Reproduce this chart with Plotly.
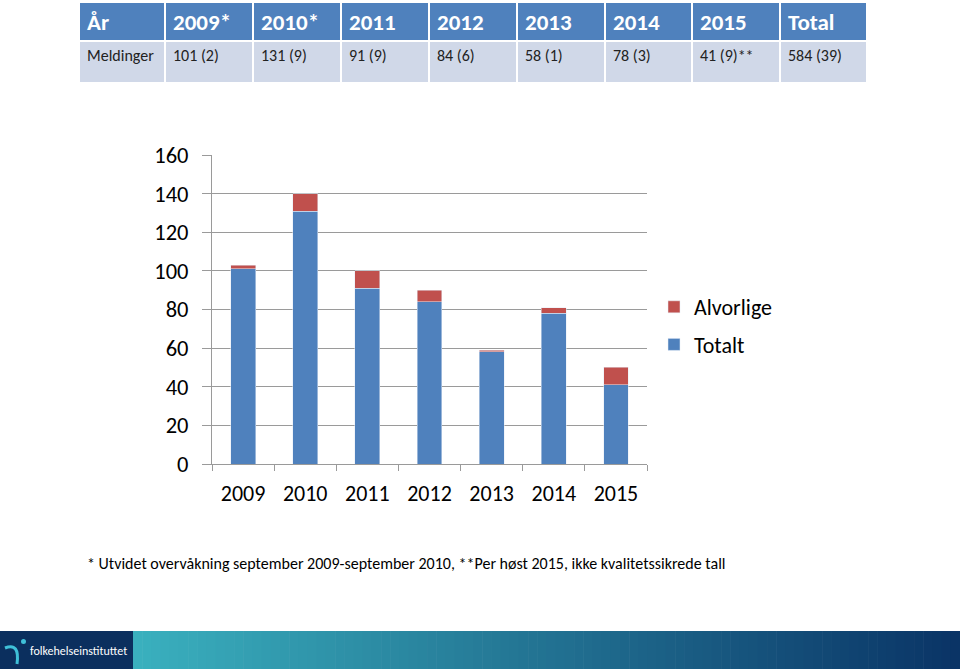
import plotly.graph_objects as go

# ---- data ----
years = ["2009", "2010", "2011", "2012", "2013", "2014", "2015"]
totalt = [101, 131, 91, 84, 58, 78, 41]
alvorlige = [2, 9, 9, 6, 1, 3, 9]

table_header = ["År", "2009*", "2010*", "2011", "2012", "2013", "2014", "2015", "Total"]
table_row = ["Meldinger", "101 (2)", "131 (9)", "91 (9)", "84 (6)", "58 (1)", "78 (3)", "41 (9)**", "584 (39)"]
footnote = "* Utvidet overvåkning september 2009-september 2010, **Per høst 2015, ikke kvalitetssikrede tall"

W, H = 960, 669
FONT = "Carlito, Lato, 'Liberation Sans', sans-serif"
BLUE = "#4F81BD"
RED = "#C0504D"
GRID = "#9A9A9A"


def px(x):
    return x / W


def py(y):
    return 1 - y / H


fig = go.Figure()
fig.add_trace(go.Bar(x=years, y=totalt, name="Totalt", marker_color=BLUE,
                     legendgroup="t", legendrank=2, hoverinfo="x+y+name"))
fig.add_trace(go.Bar(x=years, y=alvorlige, name="Alvorlige", marker_color=RED,
                     legendgroup="a", legendrank=1, hoverinfo="x+y+name"))

shapes = []
annotations = []

# ---- table ----
col_edges = [79, 165, 253, 341, 429, 517, 605, 692, 780, 867]
hdr_top, hdr_bot = 3, 40
row_top, row_bot = 42, 82
for i in range(len(table_header)):
    x0, x1 = col_edges[i] + 1, col_edges[i + 1] - 1
    shapes.append(dict(type="rect", xref="paper", yref="paper", x0=px(x0), x1=px(x1),
                       y0=py(hdr_bot), y1=py(hdr_top), fillcolor=BLUE, line_width=0, layer="below"))
    shapes.append(dict(type="rect", xref="paper", yref="paper", x0=px(x0), x1=px(x1),
                       y0=py(row_bot), y1=py(row_top), fillcolor="#D0D8E8", line_width=0, layer="below"))
    annotations.append(dict(x=px(x0 + 5), y=py(22), xref="paper", yref="paper",
                            text="<b>%s</b>" % table_header[i], showarrow=False,
                            xanchor="left", yanchor="middle",
                            font=dict(family=FONT, size=23, color="white")))
    annotations.append(dict(x=px(x0 + 5), y=py(56), xref="paper", yref="paper",
                            text=table_row[i], showarrow=False,
                            xanchor="left", yanchor="middle",
                            font=dict(family=FONT, size=16, color="#222222")))

# ---- footnote ----
annotations.append(dict(x=px(85), y=py(563), xref="paper", yref="paper", text=footnote,
                        showarrow=False, xanchor="left", yanchor="middle",
                        font=dict(family=FONT, size=16, color="black")))

# ---- footer band ----
ftop = 631
shapes.append(dict(type="rect", xref="paper", yref="paper", x0=0, x1=px(133),
                   y0=0, y1=py(ftop), fillcolor="#0B2F5E", line_width=0))
c0 = (58, 176, 190)
c1 = (10, 52, 102)
n = 90
x_start = 133
step = (W - x_start) / n
for k in range(n):
    t = k / (n - 1)
    col = tuple(int(round(c0[j] + (c1[j] - c0[j]) * t)) for j in range(3))
    shapes.append(dict(type="rect", xref="paper", yref="paper",
                       x0=px(x_start + k * step), x1=px(min(W, x_start + (k + 1) * step + 0.6)),
                       y0=0, y1=py(ftop), fillcolor="rgb(%d,%d,%d)" % col, line_width=0))
# logo figure (simple)
shapes.append(dict(type="circle", xref="paper", yref="paper", x0=px(21), x1=px(26),
                   y0=py(644), y1=py(639), fillcolor="#3FC0D8", line_width=0))
shapes.append(dict(type="path", xref="paper", yref="paper",
                   path="M %f %f Q %f %f %f %f" % (px(5), py(648), px(20), py(642), px(17), py(664)),
                   line=dict(color="#3FC0D8", width=3)))
annotations.append(dict(x=px(28), y=py(651), xref="paper", yref="paper",
                        text="folkehelseinstituttet", showarrow=False,
                        xanchor="left", yanchor="middle",
                        font=dict(family=FONT, size=12, color="white")))

fig.update_layout(
    width=W, height=H,
    margin=dict(l=0, r=0, t=0, b=0, pad=0, autoexpand=False),
    paper_bgcolor="white", plot_bgcolor="white",
    barmode="stack", bargap=0.6,
    font=dict(family=FONT, color="black"),
    xaxis=dict(domain=[px(212), px(647)], showgrid=False, showline=True, automargin=False,
               linecolor=GRID, linewidth=1, ticks="outside", tickson="boundaries",
               ticklen=6, tickcolor=GRID, tickfont=dict(size=22, family=FONT),
               ticklabelstandoff=10, fixedrange=True),
    yaxis=dict(domain=[py(464), py(155)], range=[0, 160], dtick=20, automargin=False,
               showgrid=True, gridcolor=GRID, gridwidth=1,
               showline=True, linecolor=GRID, ticks="outside", ticklen=9,
               tickcolor=GRID, tickfont=dict(size=22.5, family=FONT),
               ticklabelstandoff=9, zeroline=False, fixedrange=True),
    legend=dict(x=px(654), y=py(286), xanchor="left", yanchor="top",
                traceorder="grouped", tracegroupgap=6,
                font=dict(size=22, family=FONT), itemwidth=30,
                bgcolor="rgba(0,0,0,0)"),
    shapes=shapes,
    annotations=annotations,
)

fig.write_html(
    "out.html",
    config={"displayModeBar": False},
    post_script="document.body.style.margin='0';document.body.style.overflow='hidden';",
)
